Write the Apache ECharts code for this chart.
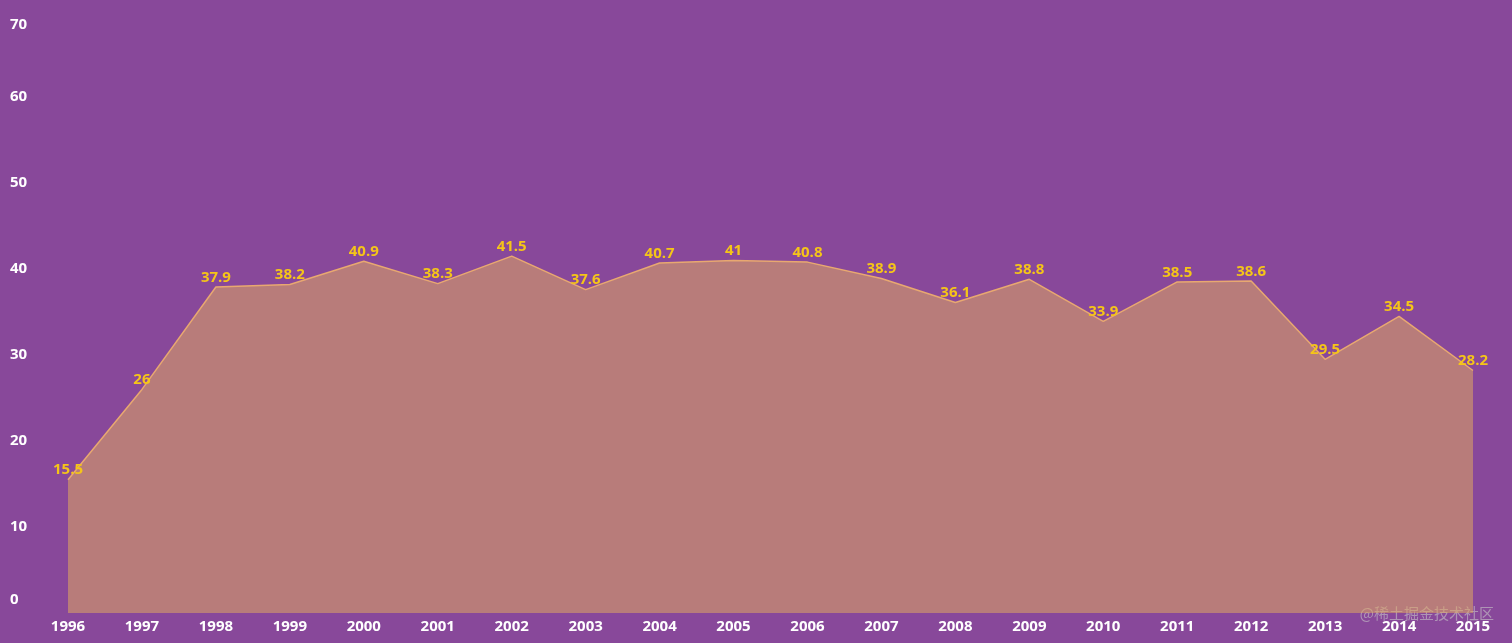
<!DOCTYPE html>
<html>
<head>
<meta charset="utf-8">
<script src="https://cdn.jsdelivr.net/npm/echarts@6/dist/echarts.min.js"></script>
<style>
html, body { margin: 0; padding: 0; background: #88489a; }
#chart { width: 1512px; height: 643px; }
</style>
</head>
<body>
<div id="chart"></div>
<script>
// 数据
const years = ['1996','1997','1998','1999','2000','2001','2002','2003','2004','2005',
               '2006','2007','2008','2009','2010','2011','2012','2013','2014','2015'];
const values = [15.5, 26, 37.9, 38.2, 40.9, 38.3, 41.5, 37.6, 40.7, 41,
                40.8, 38.9, 36.1, 38.8, 33.9, 38.5, 38.6, 29.5, 34.5, 28.2];

const tickStyle = { color: '#fff', fontWeight: 'bold', fontSize: 15, fontFamily: 'Open Sans' };

const chart = echarts.init(document.getElementById('chart'));
chart.setOption({
    backgroundColor: '#88489a',
    grid: { left: 68, right: 39, top: 11, bottom: 30 },
    xAxis: {
        type: 'category',
        boundaryGap: false,
        data: years,
        axisLine: { show: false },
        axisTick: { show: false },
        axisLabel: Object.assign({ margin: 6, interval: 0 }, tickStyle)
    },
    yAxis: {
        type: 'value',
        min: 0, max: 70, interval: 10,
        splitLine: { show: false },
        axisLine: { show: false },
        axisTick: { show: false },
        axisLabel: Object.assign({
            margin: 58, align: 'left',
            // 两端标签向内偏移
            formatter: v => v === 0 ? '{lo|0}' : v === 70 ? '{hi|70}' : String(v),
            rich: {
                lo: Object.assign({ padding: [0, 0, 26, 0] }, tickStyle),
                hi: Object.assign({ padding: [28, 0, 0, 0] }, tickStyle)
            }
        }, tickStyle)
    },
    series: [{
        type: 'line',
        data: values,
        symbol: 'circle',
        symbolSize: 0,
        showSymbol: true,
        lineStyle: { color: '#e8a870', width: 1.5 },
        itemStyle: { color: '#e8a870' },
        areaStyle: { color: '#e0a860', opacity: 0.55 },
        label: {
            show: true,
            position: 'top',
            distance: 2,
            color: '#f5c518',
            fontWeight: 'bold',
            fontSize: 15,
            fontFamily: 'Open Sans'
        }
    }],
    graphic: [{
        type: 'text',
        right: 18, bottom: 22,
        style: { text: '@稀土掘金技术社区', fill: 'rgba(200,200,200,0.6)', fontSize: 15,
                 fontFamily: 'Noto Sans CJK SC' }
    }]
});
</script>
</body>
</html>
